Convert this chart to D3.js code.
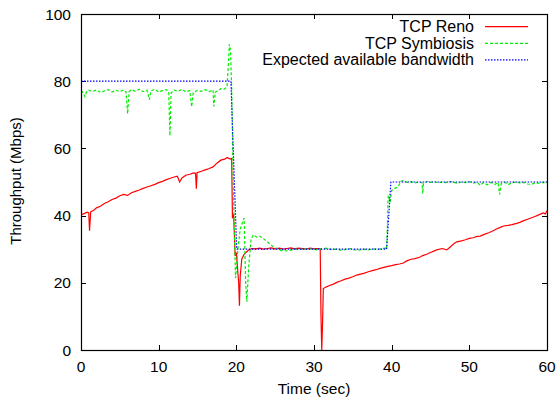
<!DOCTYPE html>
<html>
<head>
<meta charset="utf-8">
<script src="https://cdn.jsdelivr.net/npm/d3@7"></script>
<style>
  body { margin: 0; background: #fff; }
  text { font-family: "Liberation Sans", Arial, sans-serif; fill: #000; }
</style>
</head>
<body>
<div id="chart"></div>
<script>
// Throughput vs time, gnuplot-style

// ---- data: [time (sec), throughput (Mbps)] ----
const xTicks = [0, 10, 20, 30, 40, 50, 60];
const yTicks = [0, 20, 40, 60, 80, 100];
const seriesNames = ["TCP Reno", "TCP Symbiosis", "Expected available bandwidth"];

const reno = [
  [0,40.2],[0.4,40.6],[0.8,41.0],[1.0,40.8],[1.1,35.5],[1.25,41.2],[1.6,41.5],[2,42.3],[2.5,42.8],
  [3,43.6],[3.5,44.1],[4,44.8],[4.5,45.2],[5,45.9],[5.5,46.3],[6,46.0],[6.5,46.8],[7,47.2],
  [7.5,47.6],[8,48.1],[8.5,48.5],[9,48.9],[9.5,49.3],[10,49.8],[10.5,50.2],[11,50.7],[11.5,51.1],
  [12,51.5],[12.4,51.7],[12.7,50.0],[13,51.2],[13.5,52.0],[14,52.3],[14.5,52.7],[14.75,52.6],
  [14.85,48.0],[14.95,52.8],[15.5,53.2],[16,53.6],[16.5,54.0],[17,54.5],[17.5,55.6],[18,56.5],
  [18.5,56.8],[18.8,57.3],[19.2,56.8],[19.4,57.0],[19.5,39.2],[19.65,40.5],[19.85,28],[20.0,29],
  [20.3,20],[20.4,13.2],[20.5,22],[20.7,27],[21,28.5],[21.5,29.6],[22,30.2],[22.5,30.1],[23,30.3],
  [23.5,30.0],[24,30.2],[24.5,30.4],[25,30.1],[25.5,30.3],[26,30.0],[26.5,30.2],[27,30.4],
  [27.5,30.1],[28,30.3],[28.5,30.2],[29,30.0],[29.5,30.3],[30,30.1],[30.5,30.2],[30.8,30.1],
  [30.9,10],[31.0,0],[31.1,8],[31.2,18.3],[31.6,18.8],[32,19.2],[32.5,19.6],[33,20.2],[33.5,20.6],
  [34,21.1],[34.5,21.4],[35,21.8],[35.5,22.3],[36,22.6],[36.5,22.9],[37,23.3],[37.5,23.6],
  [38,23.9],[38.5,24.3],[39,24.6],[39.5,24.9],[40,25.1],[40.5,25.4],[41,25.6],[41.5,25.9],
  [42,26.6],[42.5,27.0],[43,27.2],[43.6,27.6],[44,28.1],[44.5,28.5],[45,29.0],[45.5,29.5],
  [45.8,29.8],[46.5,30.2],[47.1,29.8],[47.5,30.6],[48,31.6],[48.4,32.2],[49,32.5],[49.5,32.8],
  [50,33.2],[50.5,33.4],[51,33.8],[51.4,33.9],[52,34.5],[52.5,34.9],[53,35.4],[53.5,36.0],
  [54,36.5],[54.4,36.9],[55,37.1],[55.5,37.3],[56.1,37.7],[56.5,38.0],[57,38.5],[57.5,38.9],
  [58.2,39.5],[58.6,39.9],[59,40.3],[59.5,40.8],[59.8,40.5],[60,41.5]
];

const symbiosis = [
  [0,77.2],[0.3,76.5],[0.5,75.4],[0.7,76.8],[1,77.3],[1.5,76.9],[2,77.4],[2.5,76.7],[3,77.1],
  [3.5,77.5],[4,76.8],[4.5,77.3],[5,76.9],[5.5,77.4],[5.8,76.8],[6,70.3],[6.2,76.9],[6.5,77.5],
  [7,77.0],[7.5,77.6],[8,76.9],[8.5,77.3],[8.8,74.5],[9,77.1],[9.5,77.6],[10,76.8],[10.5,77.2],
  [11,77.5],[11.3,76.7],[11.45,63.8],[11.6,76.5],[12,77.3],[12.5,77.0],[13,77.6],[13.5,76.8],
  [14,77.2],[14.25,72.4],[14.45,76.6],[15,77.3],[15.5,77.0],[16,77.5],[16.5,76.9],[17,77.4],
  [17.1,72.5],[17.3,76.8],[17.7,77.2],[18,77.8],[18.4,77.6],[18.8,78.3],[19.0,86],[19.1,91],
  [19.25,89],[19.4,78],[19.6,50],[19.9,21.4],[20.2,30],[20.5,36],[21,39.3],[21.2,20],[21.35,14.4],
  [21.6,25],[21.9,33],[22.2,34.3],[22.6,33.6],[23,33.9],[23.4,33.3],[24,32.2],[24.6,31.0],
  [25.2,30.2],[25.8,29.6],[26.5,29.5],[27.2,29.8],[28,30.1],[28.6,29.9],[29.2,30.2],[29.8,30.0],
  [30.4,29.8],[31,30.1],[31.6,30.3],[32.2,29.9],[32.8,30.0],[33.4,29.7],[34,29.9],[34.6,30.2],
  [35.2,29.8],[35.8,29.7],[36.4,30.0],[37,29.8],[37.6,30.1],[38.2,29.9],[38.8,30.2],[39.2,30.3],
  [39.35,30],[39.45,37],[39.55,46],[39.8,44],[40,47.5],[40.4,48.1],[40.8,48.5],[41.2,50.2],
  [41.5,50.4],[42,49.9],[42.5,50.1],[43,49.7],[43.5,50.0],[43.9,49.8],[44.0,46.6],[44.1,49.6],
  [44.6,50.2],[45,49.9],[45.5,50.1],[46,49.7],[46.5,50.0],[47,49.8],[47.5,50.2],[48,49.9],
  [48.5,49.6],[49,50.0],[49.5,49.8],[50,50.1],[50.5,49.7],[51,49.9],[51.4,49.0],[51.8,49.8],
  [52.3,49.2],[52.8,49.9],[53.3,49.3],[53.7,49.8],[53.9,46.3],[54.1,49.5],[54.6,49.9],[55,49.2],
  [55.5,49.8],[56,50.0],[56.5,49.7],[57,49.9],[57.5,49.4],[58,49.3],[58.5,49.8],[59,49.6],
  [59.5,49.9],[60,49.7]
];

const expected = [
  [0,80],[19.3,80],[20.05,30],[39.35,30],[39.9,50],[60,50]
];

// ---- layout ----
const W = 560, H = 403;
const margin = { left: 81, right: 13, top: 14, bottom: 53 };
const width = W - margin.left - margin.right;
const height = H - margin.top - margin.bottom;
const fontSize = 15.5;
const tickLen = 5;

const svg = d3.select("#chart").append("svg")
    .attr("width", W)
    .attr("height", H);

const x = d3.scaleLinear().domain([0, 60]).range([0, width]);
const y = d3.scaleLinear().domain([0, 100]).range([height, 0]);

const g = svg.append("g")
    .attr("transform", `translate(${margin.left},${margin.top})`);

svg.append("defs").append("clipPath").attr("id", "clip")
  .append("rect").attr("width", width).attr("height", height);

// ticks (inward, mirrored like gnuplot)
const ticks = g.append("g").attr("stroke", "#000").attr("stroke-width", 1);
xTicks.forEach(t => {
  const px = Math.round(x(t)) + 0.5;
  ticks.append("line").attr("x1", px).attr("x2", px).attr("y1", height).attr("y2", height - tickLen);
  ticks.append("line").attr("x1", px).attr("x2", px).attr("y1", 0).attr("y2", tickLen);
});
yTicks.forEach(t => {
  const py = Math.round(y(t)) + 0.5;
  ticks.append("line").attr("x1", 0).attr("x2", tickLen).attr("y1", py).attr("y2", py);
  ticks.append("line").attr("x1", width).attr("x2", width - tickLen).attr("y1", py).attr("y2", py);
});

// tick labels
g.append("g").selectAll("text")
  .data(xTicks).enter().append("text")
    .attr("x", d => x(d))
    .attr("y", height + 22)
    .attr("text-anchor", "middle")
    .attr("font-size", fontSize + "px")
    .text(d => d);

g.append("g").selectAll("text")
  .data(yTicks).enter().append("text")
    .attr("x", -10)
    .attr("y", d => y(d) + 5.5)
    .attr("text-anchor", "end")
    .attr("font-size", fontSize + "px")
    .text(d => d);

// axis titles
svg.append("text")
    .attr("x", margin.left + width / 2)
    .attr("y", 394)
    .attr("text-anchor", "middle")
    .attr("font-size", fontSize + "px")
    .text("Time (sec)");

svg.append("text")
    .attr("transform", `translate(21,${margin.top + height / 2 - 1}) rotate(-90)`)
    .attr("text-anchor", "middle")
    .attr("font-size", "15px")
    .text("Throughput (Mbps)");

// lines
const line = d3.line().x(d => x(d[0])).y(d => y(d[1]));
const styles = [
  { data: reno, color: "#ff0000", dash: null },
  { data: symbiosis, color: "#00ee00", dash: "3,2" },
  { data: expected, color: "#0000ff", dash: "1.5,1.5" }
];

const plot = g.append("g").attr("clip-path", "url(#clip)");
styles.forEach(s => {
  plot.append("path")
      .attr("d", line(s.data))
      .attr("fill", "none")
      .attr("stroke", s.color)
      .attr("stroke-width", 1.2)
      .attr("stroke-dasharray", s.dash);
});

// border
g.append("rect")
    .attr("x", 0.5).attr("y", 0.5)
    .attr("width", width).attr("height", height)
    .attr("fill", "none")
    .attr("stroke", "#000")
    .attr("stroke-width", 1.2);

// legend (right-aligned text, sample line to the right)
const legend = svg.append("g");
styles.forEach((s, i) => {
  const ly = 26.7 + i * 16.6;
  legend.append("text")
      .attr("x", 474)
      .attr("y", ly + 5.5)
      .attr("text-anchor", "end")
      .attr("font-size", "16px")
      .text(seriesNames[i]);
  legend.append("line")
      .attr("x1", 485).attr("x2", 528)
      .attr("y1", ly).attr("y2", ly)
      .attr("stroke", s.color)
      .attr("stroke-width", 1.2)
      .attr("stroke-dasharray", s.dash);
});
</script>
</body>
</html>
